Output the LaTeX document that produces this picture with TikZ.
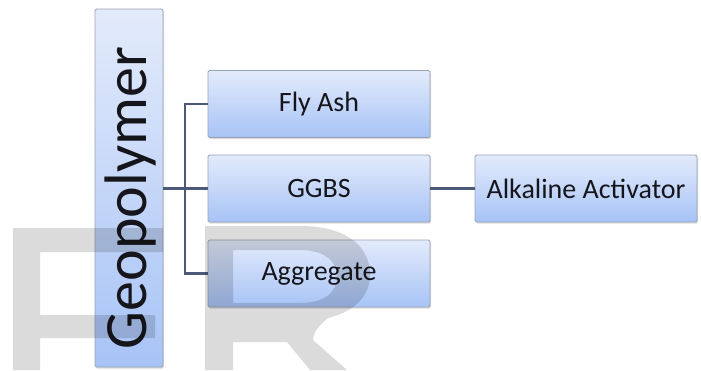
\documentclass[tikz,border=0pt]{standalone}
\usepackage{fontspec}
\setmainfont{Carlito}
\usetikzlibrary{shadows}
\definecolor{boxtop}{HTML}{E3EBFB}
\definecolor{boxbot}{HTML}{A7C3F6}
\definecolor{boxline}{HTML}{9AA3B4}
\definecolor{linkcol}{HTML}{4A5A78}
\definecolor{txtcol}{HTML}{15151B}
\tikzset{
  itembox/.style={rectangle, rounded corners=1.5pt, draw=boxline, line width=0.9pt,
    top color=boxtop, bottom color=boxbot, text=txtcol,
    minimum width=222pt, minimum height=67pt, inner sep=0pt,
    font=\fontsize{28}{30}\selectfont,
    drop shadow={opacity=0.28, shadow xshift=1pt, shadow yshift=-1.5pt}},
  rootbox/.style={itembox, minimum width=68pt, minimum height=358pt},
  link/.style={draw=linkcol, line width=2.2pt},
  greyletter/.style={fill=black, fill opacity=0.14, even odd rule}
}
\begin{document}
\begin{tikzpicture}[x=1pt,y=-1pt]
  \useasboundingbox (0,0) rectangle (701,370);
  \fill[white] (0,0) rectangle (701,370);

  % root and its parts
  \node[rootbox] (geo) at (129,188) {};
  \node[rotate=90, text=txtcol, font=\fontsize{60}{62}\selectfont] (geotext) at (131,198) {Geopolymer};
  \node[itembox] (fly) at (319,104) {Fly Ash};
  \node[itembox] (ggbs) at (319,188.5) {GGBS};
  \node[itembox] (agg) at (319,273.5) {Aggregate};
  \node[itembox] (alk) at (586,188.5) {Alkaline Activator};

  % connectors
  \coordinate (trunk) at (185,188.5);
  \draw[link] (geo.east |- trunk) -- (ggbs.west);
  \draw[link] (fly.west) -| (trunk) |- (agg.west);
  \draw[link] (ggbs.east) -- (alk.west);

  % large grey letters laid over the lower part
  \path[greyletter] (13,228) -- (163,228) -- (163,252) -- (40,252) -- (40,315)
    -- (155,315) -- (155,338) -- (40,338) -- (40,370) -- (13,370) -- cycle;
  \path[greyletter] (205,226) -- (300,226)
      .. controls (345,226) and (370,245) .. (370,275)
      .. controls (370,298) and (352,312) .. (328,318)
      .. controls (318,326) and (313,333) .. (313,340)
      -- (347,370) -- (310,370) -- (287,342) -- (233,342) -- (233,370)
      -- (205,370) -- cycle
    (233,250) -- (300,250)
      .. controls (325,250) and (337,262) .. (337,276)
      .. controls (337,292) and (325,303) .. (300,303) -- (233,303) -- cycle;
\end{tikzpicture}
\end{document}
